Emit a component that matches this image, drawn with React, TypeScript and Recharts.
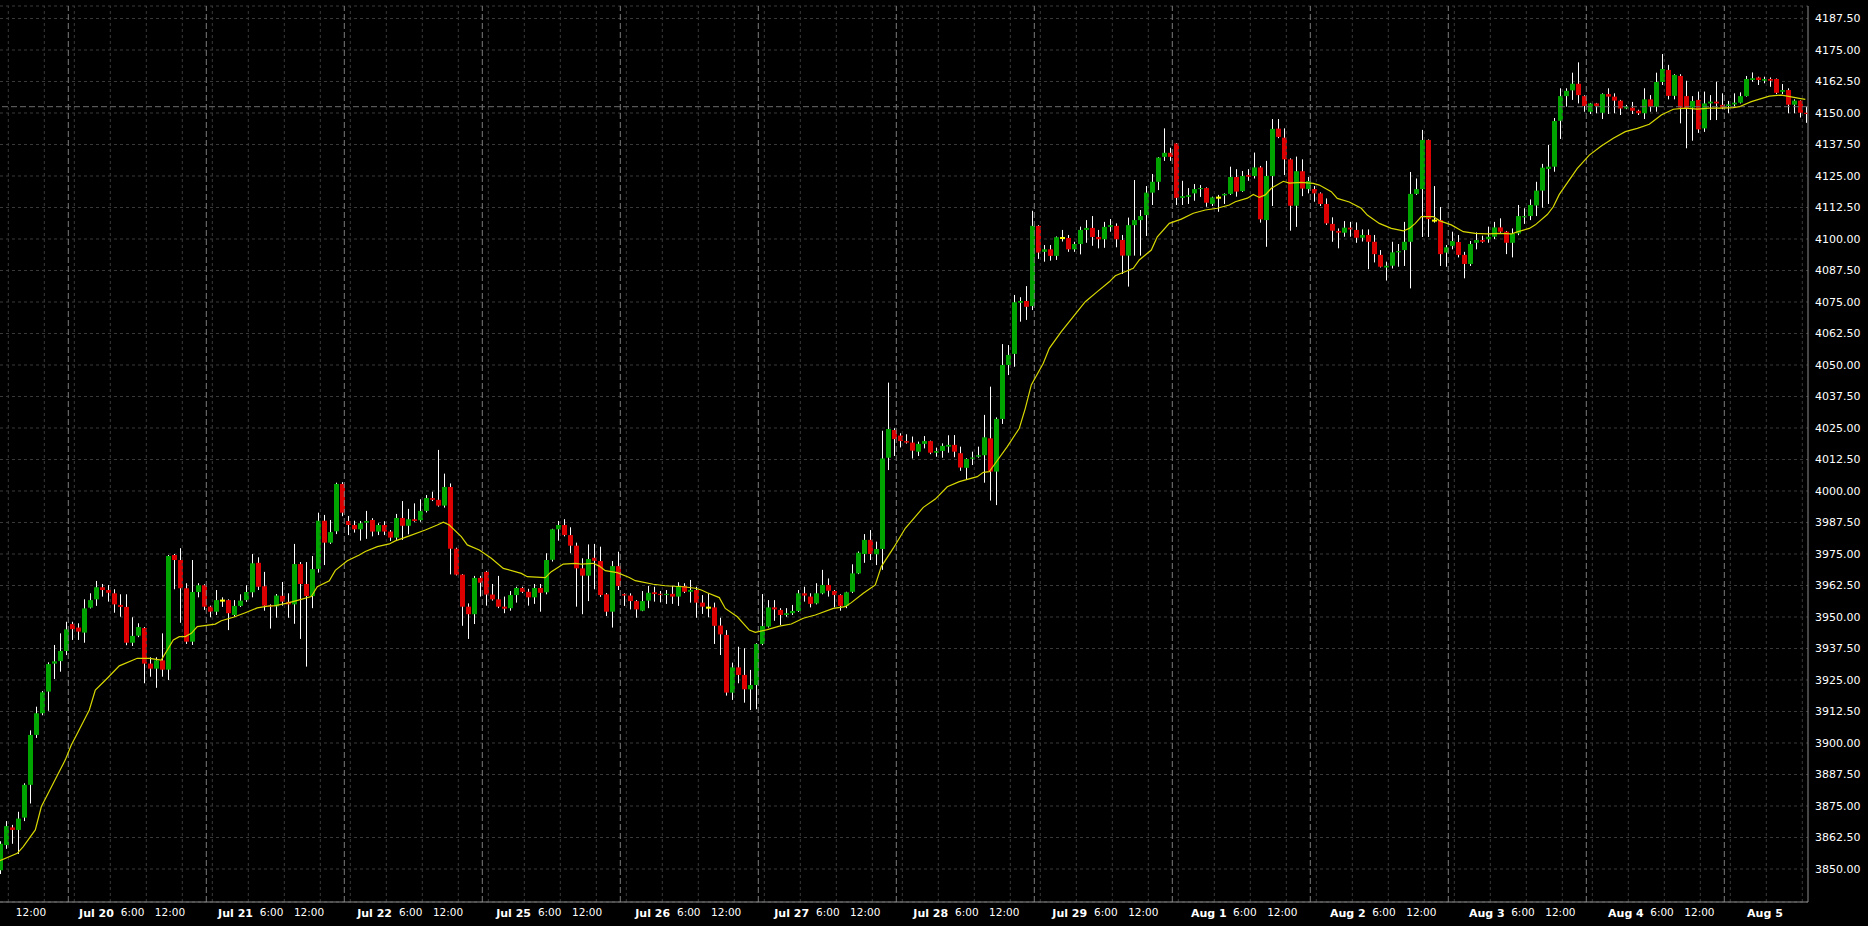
import {
  ComposedChart, Bar, Line, XAxis, YAxis, CartesianGrid, ReferenceLine,
} from "recharts";

// hourly candles, left to right
const OPEN = [
  3849.5, 3859.5, 3866.5, 3865.5, 3870.4, 3883.4, 3903.2, 3911.8, 3920.4, 3931.5,
  3932.5, 3936.5, 3947.2, 3945.8, 3943.8, 3953.7, 3957, 3961.8, 3960.7, 3959.4,
  3954.8, 3954, 3939.8, 3942.6, 3945.6, 3931.5, 3929.5, 3932.8, 3929.1, 3974.6,
  3972.6, 3961.4, 3940.2, 3959.9, 3962.6, 3954.1, 3952.1, 3956.5, 3956.7, 3950.8,
  3954.4, 3956.7, 3959.8, 3971.5, 3962.2, 3954.5, 3954.2, 3958.4, 3956, 3955,
  3971, 3963.1, 3958.3, 3969.1, 3988.2, 3979.5, 3984, 4002.8, 3988.1, 3986.5,
  3984.8, 3987.4, 3988.5, 3983.9, 3986.5, 3983.9, 3981.5, 3989.3, 3986.2, 3988.8,
  3988.4, 3992.1, 3997.2, 3996.5, 3994.2, 4001.6, 3977.1, 3966.8, 3954.1, 3951.1,
  3965.5, 3967.9, 3958.9, 3957, 3954.1, 3953.5, 3958.7, 3961.5, 3960, 3957.8,
  3961.5, 3959.8, 3972.7, 3984.8, 3986.5, 3982.5, 3978.3, 3969.3, 3966.4, 3973.5,
  3972.2, 3959, 3952.1, 3970.2, 3959.1, 3958.5, 3956.3, 3952.5, 3956.5, 3959.8,
  3959.2, 3958.7, 3959.2, 3958.1, 3962.3, 3960, 3960.7, 3955.7, 3953.7, 3953.8,
  3946.6, 3942.9, 3920, 3930, 3927, 3921.3, 3923, 3939.3, 3946.2, 3953.8,
  3952.8, 3950.8, 3951.5, 3952.4, 3959.4, 3958.1, 3955.4, 3959.4, 3962.7, 3960.3,
  3958.7, 3954.4, 3960, 3967.3, 3975, 3980.6, 3974.9, 3977, 4013.2, 4024.2,
  4022, 4019.8, 4019.2, 4015.6, 4018.7, 4019.8, 4015.2, 4015.9, 4017.6, 4018.3,
  4015, 4009.2, 4012.8, 4013.6, 4014.2, 4020.9, 4007.7, 4028.6, 4050, 4054.4,
  4074.7, 4075.4, 4073.4, 4105.2, 4094.9, 4095.9, 4093.3, 4100.4, 4100.4, 4095.9,
  4098, 4103.6, 4104.4, 4100.8, 4099.9, 4104.8, 4105.2, 4099.6, 4093.4, 4105.5,
  4107.5, 4109.5, 4118.4, 4122.7, 4132.6, 4134.2, 4137.9, 4116.3, 4116.7, 4118.1,
  4119.8, 4120.2, 4113.9, 4116.4, 4117.3, 4117.9, 4124.6, 4119, 4125.4, 4125,
  4128.4, 4107.5, 4125, 4143.8, 4140.2, 4131.6, 4113.2, 4126.9, 4119.8, 4119.8,
  4118.1, 4113.9, 4106, 4103.2, 4102.5, 4104.5, 4103.6, 4100.5, 4101.6, 4098.9,
  4093.7, 4088.7, 4089.4, 4094.7, 4095.6, 4098.9, 4117.9, 4119.8, 4139.3, 4107.3,
  4107.5, 4094.6, 4097.2, 4098.8, 4093.7, 4090.1, 4098.5, 4099.6, 4099.9, 4100.9,
  4104.6, 4102.9, 4098.5, 4102.2, 4108.6, 4109.1, 4113.3, 4119.2, 4127.8, 4128.7,
  4146.9, 4156.7, 4159, 4161.6, 4156.7, 4150.5, 4153.8, 4150.1, 4157.5, 4156.5,
  4154.9, 4151.8, 4152.1, 4150.9, 4149.9, 4155.4, 4152.5, 4162.3, 4167.1, 4156.8,
  4164.7, 4156.7, 4152.1, 4155.2, 4143.9, 4153.8, 4154.5, 4153.2, 4152.8, 4153.4,
  4154.1, 4156.7, 4163.1, 4164.1, 4162.8, 4163.5, 4163.5, 4158.4, 4159.1, 4153.3,
  4154.9, 4150.1,
];

const HIGH = [
  3861, 3869, 3867.5, 3872.7, 3884, 3905, 3914.4, 3920.6, 3932, 3938.9,
  3943.5, 3948.1, 3948.1, 3947.5, 3957, 3959.4, 3964.3, 3963.1, 3962.7, 3961,
  3959, 3959, 3949.9, 3947.5, 3946, 3934, 3934, 3943.5, 3974.6, 3975,
  3977.3, 3963.4, 3972.6, 3963.4, 3963, 3954.5, 3960.7, 3957.8, 3957, 3956.7,
  3959, 3962.6, 3975, 3973.7, 3967.9, 3955, 3959.1, 3963.9, 3959.4, 3979,
  3971.8, 3971.8, 3974.2, 3991.4, 3990.5, 3988.5, 4003.3, 4003.5, 3990.1, 3988.2,
  3988.1, 3992.1, 3989.2, 3987.2, 3988, 3984.5, 3990.9, 3996, 3992.9, 3995.1,
  3996.7, 3998.4, 3999.7, 4016.3, 4006.9, 4003, 3977.5, 3967, 3955.4, 3966.3,
  3966.3, 3968.3, 3963.1, 3966.3, 3958.1, 3960.3, 3962, 3962, 3961.2, 3963.1,
  3963.1, 3975.3, 3985, 3988.1, 3988.8, 3985.6, 3979.5, 3973.3, 3978.8, 3979,
  3977.9, 3959.5, 3972.2, 3975.9, 3959.4, 3959.4, 3956.7, 3960.3, 3962.3, 3962,
  3960.3, 3960.7, 3962.3, 3963.8, 3963.4, 3964.7, 3962, 3958.7, 3959.4, 3955.7,
  3949.7, 3944.8, 3931.9, 3938.2, 3937.6, 3929, 3939.6, 3959.1, 3956.7, 3956.7,
  3953.5, 3953.5, 3954.8, 3960.7, 3962, 3959.4, 3963.4, 3968.7, 3965.3, 3960.7,
  3959, 3960, 3970.9, 3976, 3982.9, 3984.5, 3979.9, 4023.9, 4043, 4024.9,
  4022.9, 4022.5, 4021.6, 4019.6, 4021.8, 4020, 4017.2, 4018.9, 4022.1, 4022.2,
  4017.6, 4013, 4015.6, 4017.6, 4030.2, 4041.4, 4029.2, 4058.3, 4057.9, 4077.8,
  4076.9, 4081.3, 4111.2, 4105.5, 4097.6, 4097.6, 4101, 4103.6, 4101.6, 4098.9,
  4104.9, 4107.5, 4109.1, 4103.6, 4106.8, 4107.9, 4106.2, 4101.6, 4108.5, 4123.4,
  4111.5, 4121, 4125.8, 4132.5, 4143.9, 4136.2, 4138.1, 4123.1, 4120.2, 4121.8,
  4121.4, 4120.5, 4116.8, 4117.5, 4118.1, 4128.7, 4127.7, 4127, 4127.7, 4134.3,
  4129, 4131, 4147.6, 4147.6, 4143.9, 4132, 4132.7, 4131.6, 4124.6, 4121,
  4118.5, 4116.1, 4108.6, 4104.2, 4107.1, 4106.8, 4106.6, 4103.8, 4103.8, 4101.6,
  4095.6, 4091, 4098.9, 4098, 4106.8, 4126.6, 4124, 4143.3, 4139.5, 4121,
  4112.7, 4097.6, 4102.9, 4101.6, 4094.9, 4099.2, 4102.6, 4101.3, 4104.9, 4106.8,
  4108.2, 4103.2, 4104.2, 4113.5, 4112.2, 4115.7, 4122.7, 4129.8, 4137.3, 4148,
  4159.8, 4159.8, 4166, 4170.1, 4157, 4154, 4154, 4157.8, 4159.8, 4157.8,
  4155.2, 4153.2, 4154.4, 4151.3, 4159.8, 4157.1, 4166, 4173.4, 4169.1, 4165.4,
  4165.4, 4162.8, 4156.7, 4158.5, 4158.5, 4157.1, 4162.4, 4157.8, 4154.8, 4157.8,
  4158.2, 4164.7, 4166.1, 4164.4, 4164.4, 4164.1, 4163.7, 4161.5, 4159.8, 4155.4,
  4155, 4152.5,
];

const LOW = [
  3848, 3858, 3860, 3856, 3869, 3876, 3902, 3911, 3912.8, 3925.4,
  3928.3, 3934.9, 3940.9, 3940.9, 3939.8, 3953.4, 3954.4, 3958.1, 3956.1, 3951.7,
  3950.1, 3938.8, 3938.5, 3942, 3923.7, 3926.3, 3921.9, 3926.3, 3925, 3961,
  3947.7, 3939.3, 3938.9, 3957.8, 3952.8, 3949.9, 3950.8, 3954, 3944.8, 3950.1,
  3954, 3956, 3957.8, 3960.7, 3952.5, 3945.4, 3949.7, 3954.5, 3949.7, 3947.3,
  3941.3, 3930.3, 3953.5, 3967.6, 3970.6, 3979, 3982.9, 3990, 3982.5, 3983.5,
  3980.3, 3981, 3982, 3982.5, 3982.5, 3980.2, 3980.6, 3980.6, 3982.8, 3987.8,
  3987.8, 3991.5, 3996, 3993.8, 3993.4, 3966.9, 3966.5, 3946.5, 3941.3, 3947.2,
  3958.1, 3954.5, 3956.5, 3953.5, 3951.5, 3952.5, 3955.7, 3959.5, 3954.5, 3955.2,
  3952.1, 3959, 3972, 3980.3, 3982, 3975.3, 3954.1, 3951.1, 3956.3, 3961,
  3958, 3950.4, 3945.8, 3960.7, 3954.4, 3953, 3949.7, 3952.3, 3953.5, 3956.1,
  3955.8, 3955.2, 3955.2, 3954.4, 3959.5, 3955.7, 3949.7, 3951.2, 3949.9, 3939.3,
  3934.9, 3918.8, 3917.1, 3923.7, 3916, 3913.1, 3913.4, 3938.8, 3945.8, 3948.5,
  3946.8, 3950.1, 3950.8, 3952, 3956.1, 3953.8, 3955, 3959, 3958.1, 3953.8,
  3952.5, 3953.5, 3959.5, 3967, 3971.5, 3972.6, 3970.6, 3968.7, 4008.3, 4013.9,
  4017.3, 4018.8, 4012.9, 4013.9, 4016.9, 4014.6, 4013.6, 4013.2, 4015.2, 4013.4,
  4008, 4004.4, 4010.3, 4013.2, 4003.3, 3996.2, 3994.4, 4026.6, 4046, 4049.3,
  4067.2, 4067.9, 4071.8, 4092.1, 4091, 4091.4, 4091.7, 4099, 4094.9, 4094.9,
  4093.9, 4098.5, 4097.3, 4096.3, 4096.5, 4102.9, 4096.7, 4086.1, 4081.1, 4093.4,
  4093.4, 4101.2, 4113.5, 4119.4, 4131, 4131, 4113.5, 4113.5, 4113.9, 4115.2,
  4116.7, 4112.8, 4113.1, 4110.8, 4113.9, 4117.5, 4116.8, 4118.7, 4123.1, 4124,
  4106.5, 4096.9, 4113.1, 4140, 4125.4, 4103.3, 4104.8, 4117, 4118.1, 4114.8,
  4113.1, 4105.6, 4098.9, 4096.3, 4100.9, 4100.9, 4098.5, 4099, 4088, 4090.7,
  4088.7, 4083.5, 4088.3, 4089, 4089.3, 4080.4, 4117.5, 4100.8, 4100.8, 4106.5,
  4089.3, 4089, 4095.9, 4092.7, 4084.4, 4089.3, 4095.9, 4098.5, 4098.5, 4100,
  4102.5, 4094, 4092.7, 4101.5, 4106, 4107.5, 4109.1, 4112.4, 4113.9, 4126.7,
  4139.7, 4152.5, 4155.2, 4153.8, 4150.5, 4149.6, 4149.9, 4147.6, 4149.6, 4149.9,
  4149.2, 4151.5, 4149.6, 4149.2, 4147.6, 4150.5, 4150.5, 4161.1, 4155.4, 4155.4,
  4145.9, 4136, 4139, 4142.1, 4142.5, 4147.2, 4147.2, 4151.5, 4149.9, 4152.5,
  4153.8, 4156.5, 4162.4, 4161.1, 4161.8, 4160.4, 4157.5, 4157.5, 4149.9, 4149.9,
  4148.2, 4146.1,
];

const CLOSE = [
  3860, 3867, 3865.5, 3870, 3883.4, 3903.2, 3911.8, 3920.1, 3931.3, 3932.4,
  3936.5, 3945.1, 3945.2, 3944.2, 3953.4, 3956.7, 3961.8, 3960.7, 3959.6, 3955,
  3954, 3939.8, 3942.5, 3946, 3931.5, 3929.5, 3932.8, 3929.1, 3974.2, 3972.6,
  3961.4, 3940.2, 3959.9, 3962.6, 3954.1, 3952.1, 3956.7, 3956.5, 3951.5, 3954.4,
  3956.5, 3959.9, 3971.3, 3962, 3954.5, 3954.1, 3958.5, 3956.1, 3955, 3971,
  3963.1, 3958.3, 3969, 3988.2, 3979.5, 3983.7, 4002.8, 3991.4, 3986.5, 3984.8,
  3987.2, 3988.1, 3983.9, 3986.5, 3983.9, 3981.5, 3989.3, 3986.2, 3988.8, 3988.1,
  3992.1, 3997.2, 3996.5, 3994.2, 4001.6, 3977.1, 3966.8, 3954.1, 3951.1, 3965.5,
  3963.6, 3958.9, 3957, 3954.1, 3953.3, 3958.7, 3961.5, 3960, 3957.8, 3961.5,
  3959.6, 3972.6, 3984.8, 3986.5, 3982.5, 3978.3, 3969.3, 3966.4, 3973, 3972.3,
  3958.7, 3952.1, 3970.2, 3962.3, 3958.5, 3956.3, 3953, 3956.3, 3959.6, 3959.1,
  3958.7, 3959.2, 3958.1, 3962.3, 3960, 3960.7, 3955.7, 3954.1, 3953.7, 3946.5,
  3943.1, 3920, 3930, 3927, 3921.3, 3923, 3939.3, 3946.4, 3953.8, 3953,
  3950.8, 3951.5, 3952.4, 3959.4, 3958.5, 3955.2, 3959.4, 3962.7, 3960.4, 3958.7,
  3954.4, 3959.8, 3967.3, 3975.5, 3980.6, 3975, 3977, 4012.9, 4024.6, 4020.6,
  4019.8, 4019.2, 4016, 4018.7, 4019.8, 4015.2, 4015.9, 4017.9, 4018.3, 4015.6,
  4009.3, 4012.7, 4013.3, 4014.2, 4021.3, 4007.7, 4028.6, 4050, 4054, 4074.9,
  4075.4, 4073.1, 4105.2, 4094.6, 4095.9, 4093.3, 4100.7, 4100.4, 4095.9, 4098,
  4103.6, 4104.4, 4100.8, 4099.9, 4104.8, 4105.5, 4099.9, 4093.4, 4105.5, 4107.5,
  4109.1, 4118.4, 4122.7, 4132.3, 4134.2, 4132.6, 4116.3, 4117, 4117.4, 4119.8,
  4120.2, 4114.4, 4116.5, 4116.4, 4117.9, 4124.6, 4118.8, 4125, 4124.7, 4128.4,
  4107.8, 4125, 4143.7, 4140.5, 4131.6, 4113.2, 4126.9, 4120, 4123, 4118.1,
  4113.9, 4106.2, 4103.3, 4102.5, 4104.5, 4103.8, 4100.5, 4101.6, 4098.9, 4094,
  4089, 4089.4, 4094.7, 4095.2, 4098.9, 4117.9, 4119.8, 4139.3, 4107.9, 4107.3,
  4094, 4096.7, 4099.2, 4093.7, 4090.1, 4098, 4099.6, 4098.9, 4100.9, 4104.6,
  4102.9, 4098.5, 4102.2, 4109.1, 4109.1, 4113.5, 4119.2, 4128.3, 4128.7, 4146.8,
  4156.7, 4158.8, 4161.6, 4157.1, 4152.8, 4153.8, 4152.8, 4157.5, 4156.5, 4154.9,
  4151.8, 4152.5, 4150.9, 4149.9, 4155.4, 4152.5, 4162.3, 4167.5, 4156.8, 4165.1,
  4152.1, 4151.8, 4154.8, 4143.5, 4153.8, 4154.5, 4153.8, 4152.1, 4153.4, 4154.1,
  4156.7, 4163.5, 4163.8, 4163.1, 4163.5, 4162.8, 4158, 4159.1, 4153.3, 4154.9,
  4150.1, 4149.6,
];

// moving average (candle index -> value)
const MA_INDEX = [
  0, 3, 4, 6, 7, 9, 11, 12, 13, 15, 16, 18, 20, 23, 25, 27, 28, 29, 30, 31,
  32, 33, 36, 37, 39, 41, 43, 45, 46, 48, 50, 52, 53, 55, 56, 58, 60, 61, 63, 65,
  66, 68, 71, 73, 74, 75, 77, 78, 80, 82, 84, 87, 88, 91, 92, 94, 96, 97, 99, 100,
  101, 103, 105, 106, 109, 111, 114, 116, 117, 118, 120, 121, 123, 125, 126, 128, 130, 132, 134, 136,
  139, 141, 142, 144, 146, 147, 149, 151, 154, 156, 158, 160, 163, 164, 165, 166, 168, 170, 171, 172,
  174, 175, 177, 179, 181, 183, 185, 186, 187, 189, 190, 192, 193, 195, 197, 199, 201, 203, 205, 206,
  208, 209, 210, 211, 212, 214, 215, 217, 219, 220, 222, 223, 225, 227, 228, 230, 232, 234, 235, 236,
  237, 239, 240, 242, 244, 246, 248, 250, 252, 253, 255, 256, 258, 259, 260, 263, 265, 267, 269, 271,
  273, 275, 277, 279, 281, 283, 285, 287, 289, 290, 292, 295, 297, 298, 300, 301,
];
const MA_VALUE = [
  3853.2, 3856.2, 3858.9, 3865.5, 3874.7, 3884, 3893.3, 3899.2, 3903.8, 3913.1,
  3921, 3925.7, 3930.6, 3933.6, 3933.6, 3932.9, 3936.9, 3940.9, 3942.2, 3942.2,
  3943.5, 3946.2, 3947.2, 3948.5, 3949.9, 3951.7, 3953.6, 3954.4, 3954.5, 3955.5,
  3956.8, 3958.1, 3962, 3964.4, 3968.5, 3972.3, 3974.6, 3976, 3977.9, 3979,
  3980.2, 3981.9, 3984.5, 3986.5, 3987.6, 3986.5, 3981.9, 3978.6, 3976.6, 3973.3,
  3969.3, 3967.3, 3966, 3965.6, 3968, 3971, 3971.3, 3971, 3971.3, 3970.2,
  3968.4, 3967.6, 3965.7, 3964.4, 3963, 3962.4, 3962, 3961.4, 3960.7, 3959.6,
  3957.7, 3953.4, 3950.1, 3944.8, 3943.9, 3945, 3946.4, 3947.2, 3949.5, 3950.8,
  3953.4, 3954.1, 3955.7, 3959.4, 3962.7, 3970, 3977.3, 3985.2, 3993.5, 3996.8,
  4001.7, 4003.7, 4005.7, 4007.4, 4007.7, 4011, 4017.6, 4024.9, 4032.8, 4042.1,
  4050.7, 4056.6, 4063.2, 4069.2, 4075.1, 4079.1, 4083, 4085.4, 4086.4, 4088.4,
  4091.7, 4095.6, 4100.9, 4106.2, 4107.9, 4110.2, 4111.5, 4112.2, 4113.5, 4114.8,
  4116.2, 4117.7, 4116.5, 4117.5, 4120.1, 4122.9, 4122.2, 4122.5, 4122.1, 4121.4,
  4118.8, 4116.1, 4114.7, 4112.2, 4109.5, 4106.2, 4104.2, 4103.2, 4104.2, 4106.2,
  4108.9, 4108.9, 4107.3, 4105.6, 4102.9, 4102.2, 4102, 4102.2, 4102, 4102.8,
  4104.2, 4105.6, 4109.7, 4112.8, 4117.7, 4128, 4133.3, 4136.9, 4140, 4142.6,
  4143.9, 4145.5, 4149.2, 4151.5, 4151.9, 4151.5, 4151.9, 4151.9, 4152.1, 4152.5,
  4154.5, 4156.7, 4157.1, 4156.7, 4155.8, 4155.4,
];

const PRICE_TICKS = [
  3850, 3862.5, 3875, 3887.5, 3900, 3912.5, 3925, 3937.5, 3950, 3962.5,
  3975, 3987.5, 4000, 4012.5, 4025, 4037.5, 4050, 4062.5, 4075, 4087.5,
  4100, 4112.5, 4125, 4137.5, 4150, 4162.5, 4175, 4187.5,
];
const DAYS = [
  "Jul 20", "Jul 21", "Jul 22", "Jul 25", "Jul 26", "Jul 27", "Jul 28",
  "Jul 29", "Aug 1", "Aug 2", "Aug 3", "Aug 4", "Aug 5",
];
const HOURS_PER_DAY = 23;
const FIRST_DAY_START = 11.5; // candle boundary where Jul 20 begins
const HOUR_MARKS = [1, 7, 13, 19];
const ASK_LINE = 4152.5;

const BG = "#000000";
const GRID = "#3a3a3a";
const SEP = "#7c7c7c";
const AXIS = "#8c8c8c";
const UP = "#00a400";
const DOWN = "#dc0000";
const DOJI = "#ffff00";
const MA_COLOR = "#d8d800";
const FONT = "DejaVu Sans, Verdana, sans-serif";

const X_DOMAIN = [0.117, 301.45];
const Y_DOMAIN = [3836.9, 4192.46];

const rows = OPEN.map((o, i) => ({
  i, open: o, high: HIGH[i], low: LOW[i], close: CLOSE[i], ma: null as number | null,
}));
MA_INDEX.forEach((idx, k) => { rows[idx].ma = MA_VALUE[k]; });

// x-axis labels (date, 6:00, 12:00 per day)
const LABEL_STEP = 23.173;
const xLabels: { v: number; text: string; bold: boolean }[] = [];
xLabels.push({ v: 28.45 - LABEL_STEP, text: "12:00", bold: false });
DAYS.forEach((d, k) => {
  xLabels.push({ v: 16.2 + LABEL_STEP * k, text: d, bold: true });
  if (k < DAYS.length - 1) {
    xLabels.push({ v: 22.217 + LABEL_STEP * k, text: "6:00", bold: false });
    xLabels.push({ v: 28.45 + LABEL_STEP * k, text: "12:00", bold: false });
  }
});
const labelMap = new Map(xLabels.map((l) => [l.v.toFixed(3), l]));

const daySeps = DAYS.map((_, k) => FIRST_DAY_START + HOURS_PER_DAY * k);
const hourLines: number[] = [];
for (let k = -1; k < DAYS.length; k++) {
  HOUR_MARKS.forEach((h) => {
    const v = FIRST_DAY_START + HOURS_PER_DAY * k + h;
    if (v > X_DOMAIN[0] && v < X_DOMAIN[1]) hourLines.push(v);
  });
}

const XTick = (props: any) => {
  const { x, y, payload } = props;
  const l = labelMap.get(Number(payload.value).toFixed(3));
  if (!l) return null;
  return (
    <text x={x} y={y} dy="0.71em" textAnchor="middle" fill="#ffffff"
      fontSize={l.bold ? 11 : 10.5} fontWeight={l.bold ? 700 : 400} fontFamily={FONT}>
      {l.text}
    </text>
  );
};

const Candle = (props: any) => {
  const { x, y, width, height, payload } = props;
  if (x == null || y == null || !payload) return null;
  const { open, close, high, low } = payload;
  const top = Math.min(y, y + height);
  const h = Math.abs(height);
  const span = high - low;
  const toY = (p: number) => (span === 0 ? top : top + ((high - p) / span) * h);
  const cx = x + width / 2;
  const bx = Math.round(cx) - 2;
  const wx = bx + 2.5;
  const bTop = toY(Math.max(open, close));
  const bBot = toY(Math.min(open, close));
  if (open === close) {
    return (
      <g>
        <line x1={wx} x2={wx} y1={top} y2={top + h} stroke="#ffffff" strokeWidth={1} />
        <rect x={bx} y={bTop - 1} width={5} height={2} fill={DOJI} />
      </g>
    );
  }
  return (
    <g>
      <line x1={wx} x2={wx} y1={top} y2={top + h} stroke="#ffffff" strokeWidth={1} />
      <rect x={bx} y={bTop} width={5} height={Math.max(1, bBot - bTop)}
        fill={close > open ? UP : DOWN} />
    </g>
  );
};

export default function App() {
  return (
    <div style={{ position: "absolute", left: 0, top: 0, width: 1868, height: 926, background: BG }}>
      <ComposedChart width={1868} height={926} data={rows}
        margin={{ top: 6, right: 0, bottom: 0, left: 0 }}>
        <CartesianGrid vertical={false} stroke={GRID} strokeDasharray="3 3" />
        <XAxis dataKey="i" type="number" domain={X_DOMAIN} allowDataOverflow
          ticks={xLabels.map((l) => l.v)} interval={0} tick={<XTick />}
          tickLine={false} tickSize={0} tickMargin={7} height={24}
          axisLine={{ stroke: AXIS }} />
        <YAxis orientation="right" type="number" domain={Y_DOMAIN} allowDataOverflow
          ticks={PRICE_TICKS} interval={0} width={60} tickLine={false} tickSize={0} tickMargin={7}
          tickFormatter={(v: number) => v.toFixed(2)}
          tick={{ fill: "#ffffff", fontSize: 11, fontFamily: FONT }}
          axisLine={{ stroke: AXIS }} />
        {hourLines.map((v) => (
          <ReferenceLine key={"h" + v} x={v} stroke={GRID} strokeDasharray="3 3" />
        ))}
        {daySeps.map((v) => (
          <ReferenceLine key={"d" + v} x={v} stroke={SEP} strokeDasharray="6 3" />
        ))}
        <ReferenceLine y={ASK_LINE} stroke="#6c6c6c" strokeDasharray="6 3" />
        <Bar dataKey={(d: any) => [d.low, d.high]} barSize={5} shape={<Candle />}
          isAnimationActive={false} />
        <Line dataKey="ma" type="linear" stroke={MA_COLOR} strokeWidth={1.2} dot={false}
          activeDot={false} connectNulls isAnimationActive={false} />
      </ComposedChart>
    </div>
  );
}
